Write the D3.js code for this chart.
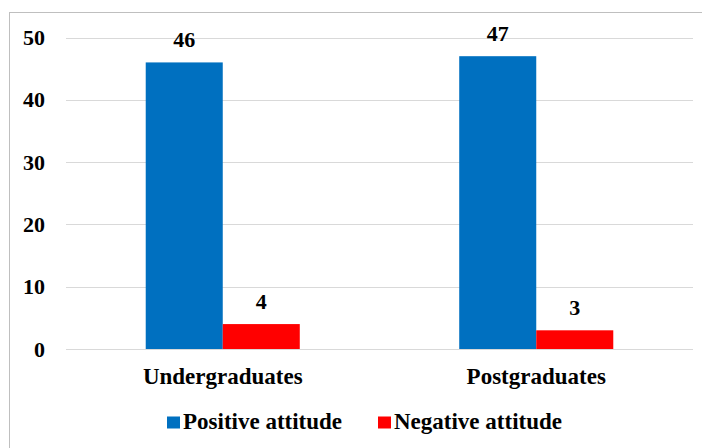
<!DOCTYPE html>
<html>
<head>
<meta charset="utf-8">
<script src="https://cdn.jsdelivr.net/npm/d3@7"></script>
<style>
  html, body { margin: 0; padding: 0; background: #fff; }
  svg { display: block; }
</style>
</head>
<body>
<svg id="chart" width="702" height="448"></svg>
<script>
// Chart data
const categories = ["Undergraduates", "Postgraduates"];
const seriesNames = ["Positive attitude", "Negative attitude"];
const positiveValues = [46, 47];
const negativeValues = [4, 3];
const yTicks = [0, 10, 20, 30, 40, 50];

const colors = { "Positive attitude": "#0070c0", "Negative attitude": "#ff0000" };
const seriesValues = { "Positive attitude": positiveValues, "Negative attitude": negativeValues };
const FONT = "'Liberation Serif'";

// Apply the bold serif face used by every label
function serif(sel, size) {
  sel.attr("font-family", "Liberation Serif")
     .style("font-family", FONT).attr("font-weight", "bold")
     .attr("font-size", size).attr("fill", "#000");
}

const svg = d3.select("#chart");
const W = 702, H = 448;

// Chart frame
svg.append("rect")
  .attr("x", 9.5).attr("y", 12.5)
  .attr("width", 700).attr("height", 450)
  .attr("fill", "#fff").attr("stroke", "#bfbfbf").attr("stroke-width", 1);

const plotL = 66, plotR = 693;
const y0 = 349, yTop = 37.5;

const y = d3.scaleLinear().domain([0, 50]).range([y0, yTop]);
const x = d3.scaleBand().domain(categories).range([plotL, plotR]).paddingInner(0).paddingOuter(0);
const xs = d3.scaleBand().domain(seriesNames).range([0, x.bandwidth()]).paddingInner(0).paddingOuter(1.035);

// Gridlines
svg.append("g").selectAll("line").data(yTicks).join("line")
  .attr("x1", plotL).attr("x2", plotR)
  .attr("y1", d => Math.round(y(d)) + 0.5).attr("y2", d => Math.round(y(d)) + 0.5)
  .attr("stroke", "#d9d9d9").attr("stroke-width", 1);

// Y axis labels
const yAxis = d3.axisLeft(y).tickValues(yTicks).tickSize(0).tickPadding(0);
const yg = svg.append("g").attr("transform", `translate(${45},0)`).call(yAxis);
yg.attr("font-family", "Liberation Serif").attr("font-size", 22);
yg.select(".domain").remove();
yg.selectAll("text").attr("dy", "0.32em").call(serif, 22);

// Bars
const groups = svg.append("g").selectAll("g").data(categories).join("g")
  .attr("transform", d => `translate(${x(d)},0)`);

groups.selectAll("rect")
  .data((c, i) => seriesNames.map(s => ({ s, v: seriesValues[s][i] })))
  .join("rect")
  .attr("x", d => xs(d.s))
  .attr("width", xs.bandwidth())
  .attr("y", d => y(d.v))
  .attr("height", d => y0 - y(d.v))
  .attr("fill", d => colors[d.s]);

// Value labels
groups.selectAll("text.val")
  .data((c, i) => seriesNames.map(s => ({ s, v: seriesValues[s][i] })))
  .join("text")
  .attr("class", "val")
  .attr("x", d => xs(d.s) + xs.bandwidth() / 2)
  .attr("y", d => y(d.v) - 15)
  .attr("text-anchor", "middle")
  .call(serif, 22)
  .text(d => d.v);

// X axis labels
const xAxis = d3.axisBottom(x).tickSize(0).tickPadding(0);
const xg = svg.append("g").attr("transform", `translate(0,${y0})`).call(xAxis);
xg.attr("font-family", "Liberation Serif").attr("font-size", 23);
xg.select(".domain").remove();
xg.selectAll("text").attr("y", 35).attr("dy", null).call(serif, 23);

// Legend
const legendItems = [
  { name: seriesNames[0], sx: 167, tx: 183 },
  { name: seriesNames[1], sx: 378, tx: 394 }
];
const lg = svg.append("g");
lg.selectAll("rect").data(legendItems).join("rect")
  .attr("x", d => d.sx).attr("y", 416.5)
  .attr("width", 13).attr("height", 12)
  .attr("fill", d => colors[d.name]);
lg.selectAll("text").data(legendItems).join("text")
  .attr("x", d => d.tx).attr("y", 429)
  .call(serif, 23)
  .text(d => d.name);
</script>
</body>
</html>
